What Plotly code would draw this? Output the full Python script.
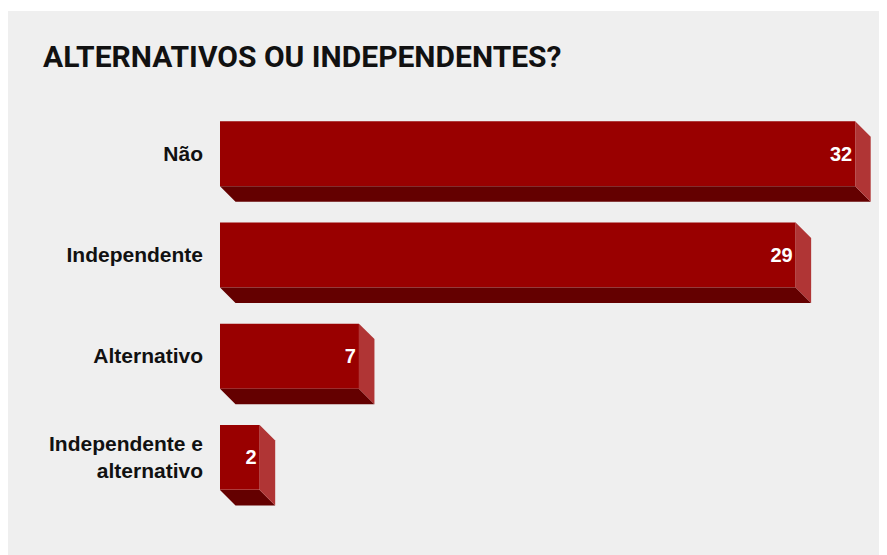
import plotly.graph_objects as go

categories = ["Não", "Independente", "Alternativo", "Independente e<br>alternativo"]
values = [32, 29, 7, 2]
title_text = "ALTERNATIVOS OU INDEPENDENTES?"

W, H = 887, 555
ML, MR, MT, MB = 212, 15, 95, 55
PW, PH = W - ML - MR, H - MT - MB
PX_PER_UNIT = 19.85
XMAX = PW / PX_PER_UNIT
YUNIT = PH / 4.0
BAR_W = 65 / YUNIT
DEPTH = 15.5
DX = DEPTH / PX_PER_UNIT
DY = DEPTH / YUNIT

FRONT = "#990000"
BOTTOM = "#640000"
SIDE = "#b03535"
PANEL = "#efefef"
TITLE_FONT = "Roboto"
FONT = "Liberation Sans, Arial, sans-serif"

pos = list(range(len(categories)))

fig = go.Figure()

# 3D faces
for p, v in zip(pos, values):
    top = p - BAR_W / 2
    bot = p + BAR_W / 2
    fig.add_trace(go.Scatter(
        x=[0, v, v + DX, DX, 0], y=[bot, bot, bot + DY, bot + DY, bot],
        fill="toself", fillcolor=BOTTOM, mode="lines", line=dict(width=0),
        hoverinfo="skip", showlegend=False))
    fig.add_trace(go.Scatter(
        x=[v, v + DX, v + DX, v, v], y=[top, top + DY, bot + DY, bot, top],
        fill="toself", fillcolor=SIDE, mode="lines", line=dict(width=0),
        hoverinfo="skip", showlegend=False))

fig.add_trace(go.Bar(
    x=values, y=pos, orientation="h", width=BAR_W,
    marker=dict(color=FRONT, line=dict(width=0)),
    text=[str(v) for v in values], textposition="inside",
    insidetextanchor="end",
    textfont=dict(family=FONT, size=20, color="white", weight="bold"),
    showlegend=False, hoverinfo="skip"))

# thin white strip at the very top
def px_to_paper_x(px):
    return (px - ML) / PW

def px_to_paper_y(py):
    return (H - MB - py) / PH

fig.add_shape(type="rect", xref="paper", yref="paper", layer="below",
              x0=px_to_paper_x(-2), x1=px_to_paper_x(W + 2),
              y0=px_to_paper_y(3), y1=px_to_paper_y(-2),
              fillcolor="white", line=dict(width=0))

fig.update_layout(
    width=W, height=H,
    margin=dict(l=ML, r=MR, t=MT, b=MB),
    paper_bgcolor=PANEL, plot_bgcolor="rgba(0,0,0,0)",
    title=dict(text=title_text, x=35 / W, xanchor="left", xref="container",
               y=1 - 48 / H, yanchor="middle", yref="container",
               font=dict(family=TITLE_FONT, size=30, color="#111111", weight="bold")),
    xaxis=dict(range=[0, XMAX], visible=False, fixedrange=True),
    yaxis=dict(range=[3.5, -0.5], tickvals=pos, ticktext=categories,
               showgrid=False, zeroline=False, showline=False, ticks="",
               ticklabelstandoff=16,
               tickfont=dict(family=FONT, size=21, color="#111111", weight="bold")),
)

fig.write_html("out.html")
